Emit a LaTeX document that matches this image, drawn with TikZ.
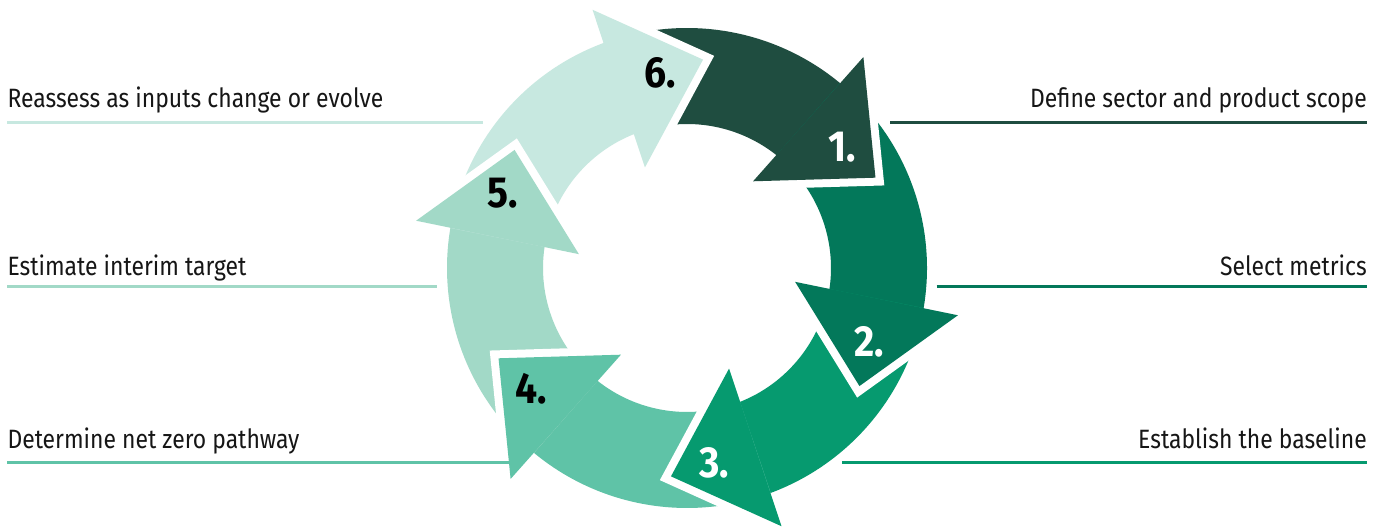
\documentclass[tikz,border=0pt]{standalone}
\usepackage{fontspec}
\setmainfont{Fira Sans}[FakeStretch=0.865]
\newfontfamily\numfont{Fira Sans}[FakeStretch=0.9]
\definecolor{cA}{HTML}{1F4D40}
\definecolor{cB}{HTML}{03785A}
\definecolor{cC}{HTML}{069A6F}
\definecolor{cD}{HTML}{5FC3A7}
\definecolor{cE}{HTML}{A2D9C7}
\definecolor{cF}{HTML}{C7E8E0}
\definecolor{txt}{HTML}{161616}
\begin{document}
\begin{tikzpicture}[x=1pt,y=1pt,
  lab/.style={font=\fontsize{26.5}{30}\selectfont, text=txt, inner sep=0pt},
  num/.style={font=\numfont\bfseries\fontsize{43.5}{44}\selectfont, inner sep=0pt},
  uline/.style={line width=2.7pt}]
\fill[white] (0,0) rectangle (1386,529);
\useasboundingbox (0,0) rectangle (1386,529);
\begin{scope}[shift={(687,261)}]
% bodies
\foreach \b/\c in {50.4/cA,-9.6/cB,-69.6/cC,-129.6/cD,170.4/cE,110.4/cF}{
  \pgfmathsetmacro\bo{\b-0.5}
  \pgfmathsetmacro\bt{\b+60}
  \pgfmathsetmacro\ci{\b+61.2}
  \pgfmathsetmacro\bi{\b+0.7}
  \fill[\c] (\bo:240) arc[start angle=\bo,end angle=\bt,radius=240]
     -- (\ci:144) arc[start angle=\ci,end angle=\bi,radius=144] -- cycle;
}
% heads
\foreach \b/\c in {50.4/cA,-9.6/cB,-69.6/cC,-129.6/cD,170.4/cE,110.4/cF}{
  \pgfmathsetmacro\pa{\b-0.3}
  \pgfmathsetmacro\pt{\b-24.8}
  \pgfmathsetmacro\pb{\b+2.3}
  \draw[white, line width=16pt, line join=miter] (\pa:275) -- (\pt:209) -- (\pb:109);
  \fill[\c] (\pa:275) -- (\pt:209) -- (\pb:109) -- cycle;
}
\node[num, text=white] (n1) at (37.9:197) {1.};
\node[num, text=white] (n2) at (-22.1:197) {2.};
\node[num, text=white] (n3) at (-82.1:197) {3.};
\node[num, text=black] (n4) at (217.9:197) {4.};
\node[num, text=black] (n5) at (157.9:199) {5.};
\node[num, text=black] (n6) at (97.9:197) {6.};
\end{scope}
% labels
\node[lab, anchor=base west] (t6) at (7.3,421) {Reassess as inputs change or evolve};
\node[lab, anchor=base west] (t5) at (7.3,253) {Estimate interim target};
\node[lab, anchor=base west] (t4) at (7.3,80) {Determine net zero pathway};
\node[lab, anchor=base east] (t1) at (1367,421) {Define sector and product scope};
\node[lab, anchor=base east] (t2) at (1367,253) {Select metrics};
\node[lab, anchor=base east] (t3) at (1367,80) {Establish the baseline};
% underlines
\draw[uline, cF] (7.3,406.5) -- (483.3,406.5);
\draw[uline, cE] (7.3,242.5) -- (436.7,242.5);
\draw[uline, cD] (7.3,66.5) -- (508.5,66.5);
\draw[uline, cA] (890,406.5) -- (1367,406.5);
\draw[uline, cB] (936.7,242.5) -- (1367,242.5);
\draw[uline, cC] (842,66.5) -- (1367,66.5);
\end{tikzpicture}
\end{document}
